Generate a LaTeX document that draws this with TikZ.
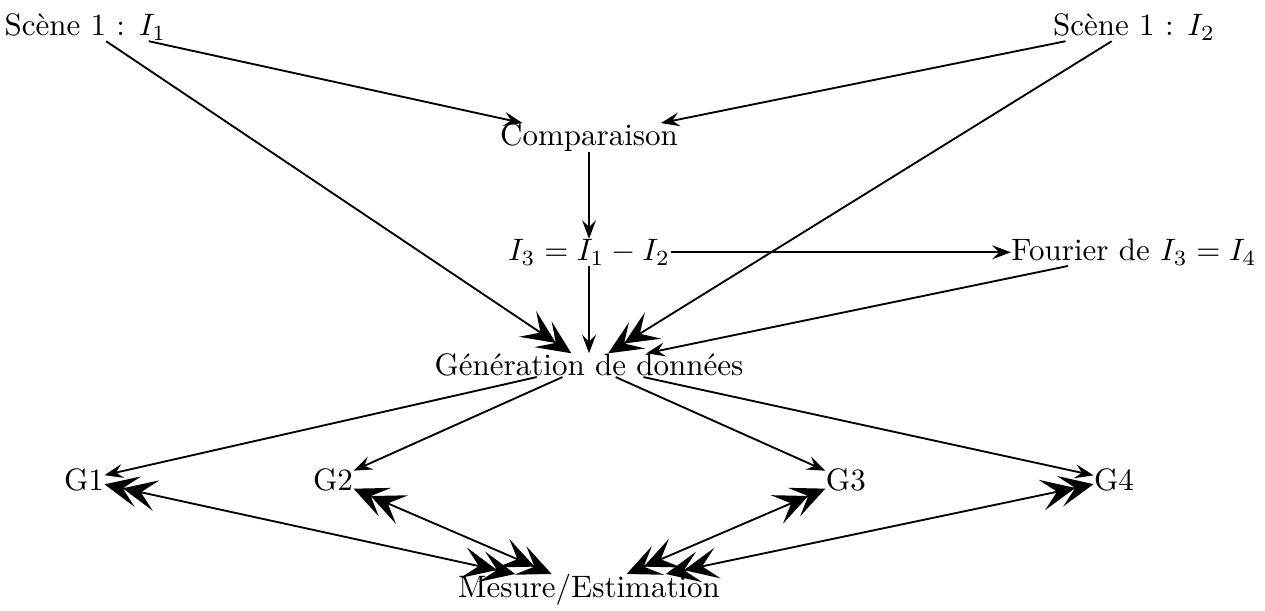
\documentclass[tikz,border=0pt]{standalone}
\usepackage{fontspec}
\usetikzlibrary{arrows.meta}
\begin{document}
\begin{tikzpicture}[x=1cm,y=1cm,
  etape/.style={inner sep=0pt},
  petite/.tip={Stealth[length=6pt,width=4.5pt,inset=2.2pt]},
  grosse/.tip={Stealth[length=11pt,width=10pt,inset=5pt,sep=-5pt]},
  fl/.style={line width=0.6pt,-petite},
  dfl/.style={line width=0.6pt,-{grosse[]grosse[]},shorten >=5pt},
  bfl/.style={line width=0.6pt,{grosse[]grosse[]}-{grosse[]grosse[]},
    shorten >=5pt,shorten <=5pt}]
\useasboundingbox (0,0) rectangle (14.342,-6.927);
\node[etape] (scene1) at (0.969,-0.31) {Scène 1 : $I_1$};
\node[etape] (scene2) at (12.857,-0.31) {Scène 1 : $I_2$};
\node[etape] (comp) at (6.678,-1.56) {Comparaison};
\node[etape] (diff) at (6.678,-2.86) {$I_3 = I_1 - I_2$};
\node[etape] (fourier) at (12.857,-2.86) {Fourier de $I_3 = I_4$};
\node[etape] (gen) at (6.678,-4.14) {Génération de données};
\node[etape] (g1) at (0.952,-5.44) {G1};
\node[etape] (g2) at (3.776,-5.44) {G2};
\node[etape] (g3) at (9.59,-5.44) {G3};
\node[etape] (g4) at (12.63,-5.44) {G4};
\node[etape] (mes) at (6.678,-6.69) {Mesure/Estimation};
\draw[fl] (scene1) -- (comp);
\draw[fl] (scene2) -- (comp);
\draw[fl] (comp) -- (diff);
\draw[fl] (diff) -- (fourier);
\draw[dfl] (scene1) -- (gen);
\draw[dfl] (scene2) -- (gen);
\draw[fl] (diff) -- (gen);
\draw[fl] (fourier) -- (gen);
\draw[fl] (gen) -- (g1);
\draw[fl] (gen) -- (g2);
\draw[fl] (gen) -- (g3);
\draw[fl] (gen) -- (g4);
\draw[bfl] (g1) -- (mes);
\draw[bfl] (g2) -- (mes);
\draw[bfl] (g3) -- (mes);
\draw[bfl] (g4) -- (mes);
\end{tikzpicture}
\end{document}
